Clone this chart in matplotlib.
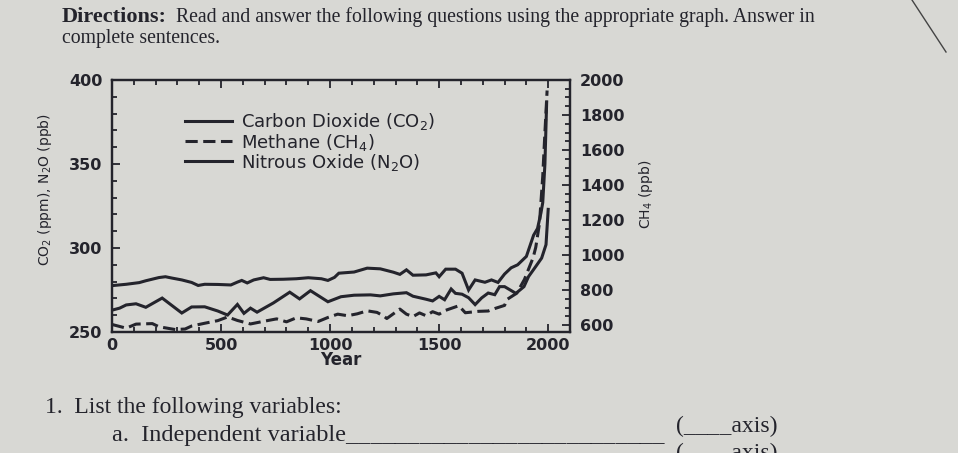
import matplotlib.pyplot as plt
from matplotlib.ticker import MultipleLocator

# values
co2_years = [0, 65, 125, 155, 215, 245, 275, 320, 365, 395, 425, 485, 545, 575, 595, 620,
             650, 695, 725, 785, 845, 900, 960, 990, 1020, 1040, 1110, 1170, 1230, 1290,
             1320, 1350, 1380, 1440, 1485, 1500, 1530, 1575, 1605, 1635, 1665, 1710, 1740,
             1770, 1800, 1830, 1860, 1900, 1933, 1951, 1967, 1975, 1985, 1993]
co2_ppm = [277.6, 278.4, 279.4, 280.5, 282.4, 282.9, 282.1, 281.0, 279.5, 277.7, 278.4,
           278.3, 278.0, 279.7, 280.7, 279.2, 281.0, 282.3, 281.3, 281.4, 281.7, 282.3,
           281.7, 280.7, 282.5, 285.0, 285.7, 288.0, 287.6, 285.6, 284.3, 287.0, 283.8,
           284.0, 285.2, 282.9, 287.4, 287.4, 285.0, 275.0, 281.0, 279.6, 281.0, 279.5,
           284.5, 288.2, 290.0, 295.0, 307.6, 311.6, 321.0, 327.0, 350.0, 387.0]

n2o_years = [0, 35, 65, 110, 155, 230, 320, 365, 425, 485, 530, 575, 605, 635, 665, 740,
             815, 860, 910, 990, 1050, 1110, 1185, 1230, 1290, 1350, 1380, 1440, 1470,
             1500, 1525, 1555, 1575, 1605, 1635, 1665, 1695, 1725, 1755, 1777, 1800, 1852,
             1889, 1910, 1943, 1970, 1990, 2000]
n2o_ppb = [263.0, 264.2, 266.1, 266.8, 264.7, 270.2, 261.3, 264.9, 265.0, 262.5, 260.1,
           266.4, 261.1, 264.2, 261.8, 267.3, 273.7, 269.7, 274.6, 268.0, 271.0, 271.9,
           272.1, 271.5, 272.7, 273.4, 271.3, 269.5, 268.5, 271.2, 269.2, 275.6, 273.0,
           272.5, 270.4, 266.3, 270.3, 273.2, 272.2, 277.0, 277.0, 273.0, 277.0, 283.0,
           289.0, 294.0, 302.0, 323.0]

ch4_years = [0, 65, 110, 185, 215, 290, 335, 365, 425, 485, 530, 575, 635, 695, 755, 800,
             845, 890, 945, 990, 1035, 1080, 1125, 1170, 1215, 1245, 1260, 1290, 1320,
             1350, 1380, 1410, 1440, 1470, 1500, 1530, 1590, 1620, 1680, 1725, 1755, 1800,
             1810, 1856, 1891, 1931, 1943, 1960, 1975, 1985, 1995]
ch4_ppb = [603, 582, 605, 608, 590, 574, 577, 594, 610, 625, 646, 626, 606, 621, 635, 618,
           641, 635, 620, 643, 662, 653, 664, 681, 672, 652, 637, 664, 691, 662, 648, 669,
           653, 676, 662, 684, 710, 670, 678, 680, 694, 712, 745, 782, 860, 985, 1044,
           1180, 1450, 1700, 1940]

x_ticks = [0, 500, 1000, 1500, 2000]
left_ticks = [250, 300, 350, 400]
right_ticks = [600, 800, 1000, 1200, 1400, 1600, 1800, 2000]

ink = '#24242c'
paper = '#d8d8d4'

fig = plt.figure(figsize=(9.58, 4.53), dpi=100, facecolor=paper)

# worksheet text
serif = 'Liberation Serif'
fig.text(62 / 958, 1 - 17 / 453, 'Directions:', family=serif, weight='bold',
         fontsize=16, color=ink, va='center')
fig.text(176 / 958, 1 - 17 / 453,
         'Read and answer the following questions using the appropriate graph. Answer in',
         family=serif, fontsize=14.2, color=ink, va='center')
fig.text(62 / 958, 1 - 38 / 453, 'complete sentences.', family=serif, fontsize=14.2,
         color=ink, va='center')
fig.text(45 / 958, 1 - 408 / 453, '1.  List the following variables:', family=serif,
         fontsize=17, color=ink, va='center')
fig.text(112 / 958, 1 - 436 / 453, 'a.  Independent variable__________________________',
         family=serif, fontsize=17.5, color=ink, va='center')
fig.text(676 / 958, 1 - 426 / 453, '(____axis)', family=serif, fontsize=17, color=ink,
         va='center')
fig.text(676 / 958, 1 - 453 / 453, '(____axis)', family=serif, fontsize=17, color=ink,
         va='center')

# page edge in the photo
fig.add_artist(plt.Line2D([912 / 958, 946 / 958], [1, 1 - 52 / 453], color='#444444', lw=1))

# graph
ax = fig.add_axes([112 / 958, 1 - 332 / 453, 458 / 958, 252 / 453])
ax.set_facecolor(paper)
ax2 = ax.twinx()

lw = 2.2
l1, = ax.plot(co2_years, co2_ppm, color=ink, lw=lw, solid_joinstyle='miter')
l3, = ax.plot(n2o_years, n2o_ppb, color=ink, lw=lw, solid_joinstyle='miter')
l2, = ax2.plot(ch4_years, ch4_ppb, color=ink, lw=lw, linestyle=(0, (4, 1.8)))

ax.set_xlim(0, 2100)
ax.set_ylim(250, 400)
ax2.set_ylim(560, 2000)

ax.set_xticks(x_ticks)
ax.xaxis.set_minor_locator(MultipleLocator(100))
ax.set_yticks(left_ticks)
ax.yaxis.set_minor_locator(MultipleLocator(10))
ax2.set_yticks(right_ticks)
ax2.yaxis.set_minor_locator(MultipleLocator(50))

for lab in ax.get_xticklabels() + ax.get_yticklabels() + ax2.get_yticklabels():
    lab.set_fontfamily('DejaVu Sans')
    lab.set_fontweight('bold')
    lab.set_fontsize(11.5)
    lab.set_color(ink)

ax.tick_params(axis='x', which='both', direction='in', top=True, bottom=True,
               color=ink, width=1.3, pad=4)
ax.tick_params(axis='y', which='both', direction='in', left=True, right=False,
               color=ink, width=1.3, pad=7)
ax2.tick_params(axis='y', which='both', direction='in', color=ink, width=1.3, pad=7)
for a in (ax, ax2):
    a.tick_params(which='major', length=6)
    a.tick_params(which='minor', length=3.5)
    for s in a.spines.values():
        s.set_linewidth(1.6)
        s.set_color(ink)

ax.set_xlabel('Year', family='DejaVu Sans', weight='bold', fontsize=12, color=ink,
              labelpad=-1)
fig.text(45 / 958, 1 - 190 / 453, 'CO$_2$ (ppm), N$_2$O (ppb)', rotation=90,
         family='DejaVu Sans', fontsize=10, color=ink, ha='center', va='center')
fig.text(646 / 958, 1 - 194 / 453, 'CH$_4$ (ppb)', rotation=90, family='DejaVu Sans',
         fontsize=10, color=ink, ha='center', va='center')

leg = ax.legend([l1, l2, l3], ['Carbon Dioxide (CO$_2$)', 'Methane (CH$_4$)',
                               'Nitrous Oxide (N$_2$O)'],
                loc='upper left', bbox_to_anchor=(0.16, 0.875), frameon=False,
                borderaxespad=0, borderpad=0, handlelength=2.6, handletextpad=0.5,
                labelspacing=-0.05, prop={'family': 'DejaVu Sans', 'size': 13})
for t in leg.get_texts():
    t.set_color(ink)

fig.savefig('out.png', dpi=100, facecolor=paper)
